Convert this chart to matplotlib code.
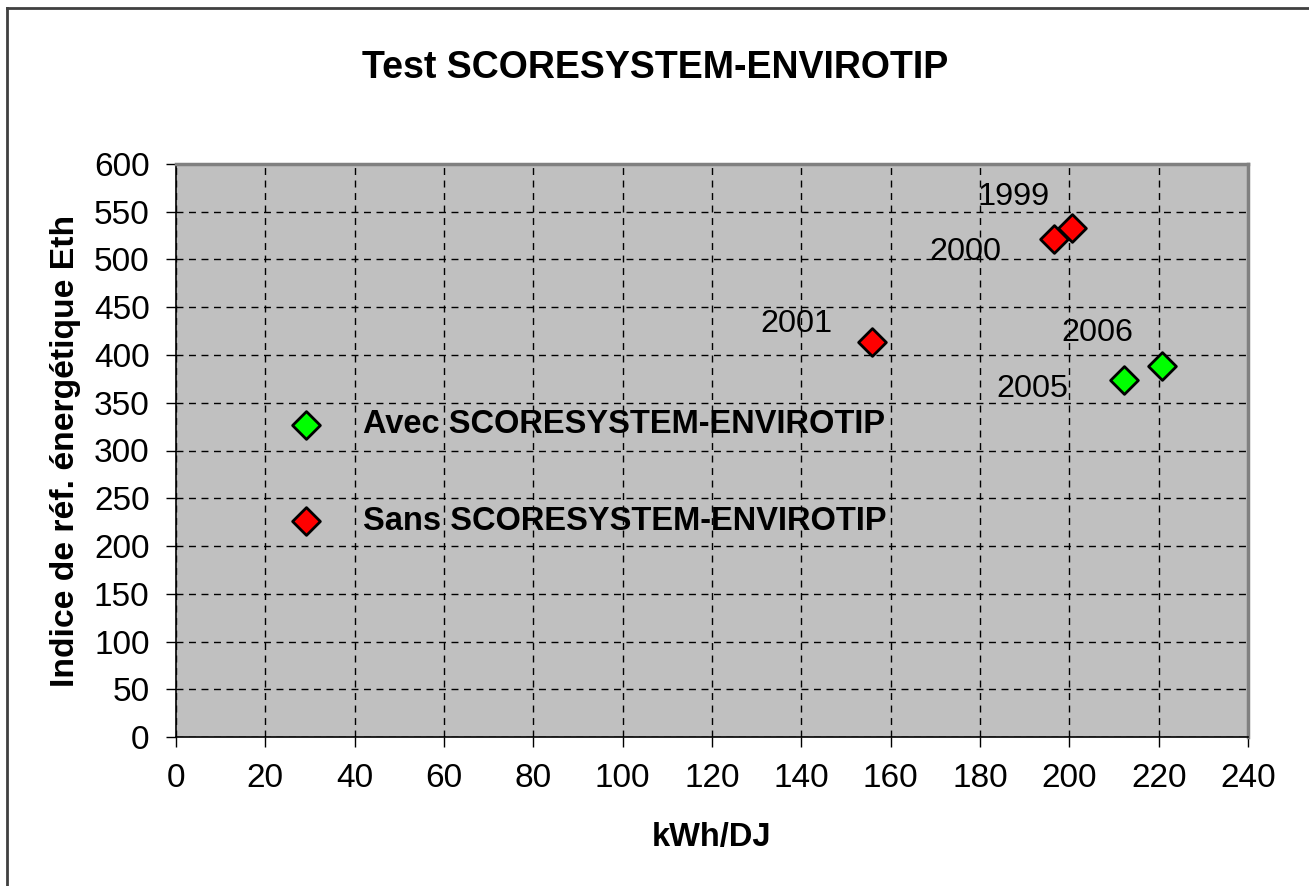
import matplotlib
matplotlib.use("Agg")
import matplotlib.pyplot as plt
from matplotlib.lines import Line2D

plt.rcParams['font.family'] = ['Liberation Sans', 'DejaVu Sans']

# data
avec_x = [212.2, 220.8]
avec_y = [373.8, 388.8]
avec_years = ['2005', '2006']
sans_x = [200.7, 196.5, 155.8]
sans_y = [532.7, 521.5, 413.9]
sans_years = ['1999', '2000', '2001']

x_ticks = list(range(0, 241, 20))
y_ticks = list(range(0, 601, 50))

# label offsets in pixels (text centre relative to the point)
offs = {'1999': (-59, 31), '2000': (-88, -13), '2001': (-75, 18),
        '2005': (-91, -9), '2006': (-65, 33)}

fig = plt.figure(figsize=(13.09, 8.86), dpi=100)
ax = fig.add_axes([176/1309, 1-737/886, 1072/1309, 573/886])
ax.set_facecolor('#C0C0C0')

ax.scatter(avec_x, avec_y, marker='D', s=200, c='#00FF00', edgecolors='black',
           linewidths=2, zorder=3, label='Avec SCORESYSTEM-ENVIROTIP')
ax.scatter(sans_x, sans_y, marker='D', s=200, c='#FF0000', edgecolors='black',
           linewidths=2, zorder=3, label='Sans SCORESYSTEM-ENVIROTIP')

for xs, ys, yrs in [(avec_x, avec_y, avec_years), (sans_x, sans_y, sans_years)]:
    for x, y, yr in zip(xs, ys, yrs):
        ax.annotate(yr, (x, y), xytext=offs[yr], textcoords='offset pixels',
                    ha='center', va='center', fontsize=23.3)

ax.set_xlim(0, 240)
ax.set_ylim(0, 600)
ax.set_xticks(x_ticks)
ax.set_yticks(y_ticks)
ax.tick_params(direction='out', length=7, width=1, labelsize=24, pad=12)
ax.grid(True, color='black', linestyle=(0, (5, 4)), linewidth=1)
ax.set_axisbelow(True)

for s in ['left', 'bottom']:
    ax.spines[s].set_color('black')
    ax.spines[s].set_linewidth(1.2)
for s in ['top', 'right']:
    ax.spines[s].set_color('#808080')
    ax.spines[s].set_linewidth(2.5)

ax.set_xlabel('kWh/DJ', fontsize=23.5, fontweight='bold', labelpad=20)
ax.set_ylabel('Indice de réf. énergétique Eth', fontsize=24.3, fontweight='bold', labelpad=9)
fig.text(655/1309, 1-68/886, 'Test SCORESYSTEM-ENVIROTIP', ha='center', va='center',
         fontsize=27, fontweight='bold')

leg = ax.legend(loc='center left', bbox_to_anchor=(0.1063, 0.4607), frameon=False,
                prop={'weight': 'bold', 'size': 23.5}, handlelength=1,
                handletextpad=1.25, labelspacing=2.0, borderpad=0, borderaxespad=0,
                scatterpoints=1)

# figure border (left and top visible)
fig.add_artist(Line2D([7/1309, 7/1309], [-0.01, 1-8/886], transform=fig.transFigure,
                      color='#404040', linewidth=2))
fig.add_artist(Line2D([7/1309, 1.01], [1-8/886, 1-8/886], transform=fig.transFigure,
                      color='#404040', linewidth=2))

fig.savefig('out.png', dpi=100)
